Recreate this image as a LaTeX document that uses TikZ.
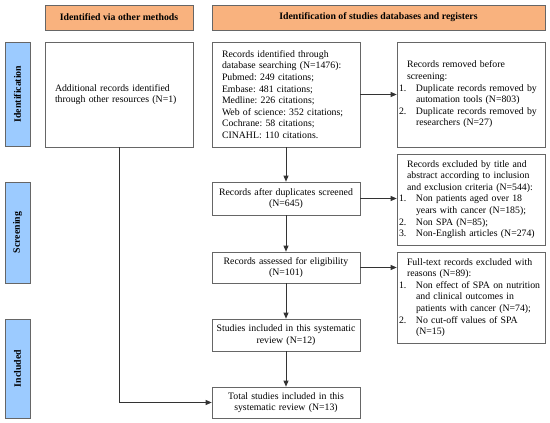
\documentclass[tikz,border=0pt]{standalone}
\usepackage{fontspec}
\setmainfont{Liberation Serif}
\usetikzlibrary{arrows.meta}
\hyphenpenalty=10000
\exhyphenpenalty=10000
\frenchspacing
\definecolor{hdrfill}{HTML}{F9B27E}
\definecolor{sidefill}{HTML}{9CCBFF}
\definecolor{bordergray}{HTML}{666666}
\definecolor{arrowgray}{HTML}{333333}
\newcommand{\litem}[2]{\mbox{\makebox[17pt][l]{#1}#2}}
\newcommand{\lcont}{\hspace*{17pt}}
\newcommand{\lpar}{\hspace*{8pt}}
\begin{document}
\begin{tikzpicture}[x=1pt,y=-1pt,
  box/.style={draw=bordergray, line width=0.7pt, fill=white, inner ysep=0pt,
    font=\fontsize{9.8}{11.6}\selectfont\frenchspacing},
  hdr/.style={draw=bordergray, line width=0.9pt, fill=hdrfill, inner sep=0pt,
    font=\fontsize{9.8}{10}\selectfont\bfseries},
  side/.style={draw=bordergray, line width=0.9pt, fill=sidefill, inner sep=0pt,
    font=\fontsize{9.8}{10}\selectfont\bfseries},
  arr/.style={draw=arrowgray, line width=0.7pt, -{Triangle[length=6pt,width=5pt]}},
  ln/.style={draw=arrowgray, line width=0.7pt}
]
\useasboundingbox (0,0) rectangle (550,423);
\fill[white] (0,0) rectangle (550,423);

% headers
\node[hdr, minimum width=148pt, minimum height=25pt] (h1) at (119,17.5) {Identified via other methods};
\node[hdr, minimum width=333pt, minimum height=25pt] (h2) at (378.5,17.5) {Identification of studies databases and registers};

% side labels
\node[side, minimum width=104pt, minimum height=25pt, rotate=90] (s1) at (17.5,94) {Identification};
\node[side, minimum width=101pt, minimum height=25pt, rotate=90] (s2) at (17.5,232.5) {Screening};
\node[side, minimum width=99pt, minimum height=25pt, rotate=90] (s3) at (17.5,368.5) {Included};

% boxes
\node[box, minimum width=148pt, minimum height=105pt, inner xsep=10pt, text width=128pt, align=left] (add) at (119,94.5)
  {Additional records identified\\through other resources (N=1)};

\node[box, minimum width=148pt, minimum height=105pt, inner xsep=10pt, text width=128pt, align=left] (rid) at (286,94.5)
  {Records identified through\\database searching (N=1476):\\Pubmed: 249 citations;\\Embase: 481 citations;\\Medline: 226 citations;\\Web of science: 352 citations;\\Cochrane: 58 citations;\\CINAHL: 110 citations.};

\node[box, minimum width=148pt, minimum height=105pt, inner xsep=2pt, text width=144pt, align=left] (rem) at (471,94.5)
  {\lpar Records removed before\\\lpar screening:\\\litem{1.}{Duplicate records removed by}\\\lcont automation tools (N=803)\\\litem{2.}{Duplicate records removed by}\\\lcont researchers (N=27)};

\node[box, minimum width=148pt, minimum height=33pt, inner xsep=2pt, text width=144pt, align=center] (aft) at (286,198.5)
  {Records after duplicates screened\\(N=645)};

\node[box, minimum width=148pt, minimum height=91pt, inner xsep=2pt, text width=144pt, align=left] (exc) at (471,199.5)
  {\lpar Records excluded by title and\\\lpar abstract according to inclusion\\\lpar and exclusion criteria (N=544):\\\litem{1.}{Non patients aged over 18}\\\lcont years with cancer (N=185);\\\litem{2.}{Non SPA (N=85);}\\\litem{3.}{Non-English articles (N=274)}};

\node[box, minimum width=148pt, minimum height=31pt, inner xsep=2pt, text width=144pt, align=center] (ass) at (286,267.5)
  {Records assessed for eligibility\\(N=101)};

\node[box, minimum width=148pt, minimum height=91pt, inner xsep=2pt, text width=144pt, align=left] (ful) at (471,297.5)
  {\lpar Full-text records excluded with\\\lpar reasons (N=89):\\\litem{1.}{Non effect of SPA on nutrition}\\\lcont and clinical outcomes in\\\lcont patients with cancer (N=74);\\\litem{2.}{No cut-off values of SPA}\\\lcont (N=15)};

\node[box, minimum width=148pt, minimum height=32pt, inner xsep=2pt, text width=144pt, align=center] (stu) at (286,335)
  {Studies included in this systematic\\review (N=12)};

\node[box, minimum width=148pt, minimum height=31pt, inner xsep=2pt, text width=144pt, align=center] (tot) at (286,402.5)
  {Total studies included in this\\systematic review (N=13)};

% connectors
\draw[arr] (rid.south) -- (aft.north);
\draw[arr] (rid.east) -- (rem.west);
\draw[arr] (aft.east) -- (aft.east -| exc.west);
\draw[arr] (ass.east) -- (ass.east -| ful.west);
\draw[arr] (aft.south) -- (ass.north);
\draw[arr] (ass.south) -- (stu.north);
\draw[arr] (stu.south) -- (tot.north);
\draw[arr] (add.south) |- (tot.west);
\end{tikzpicture}
\end{document}
